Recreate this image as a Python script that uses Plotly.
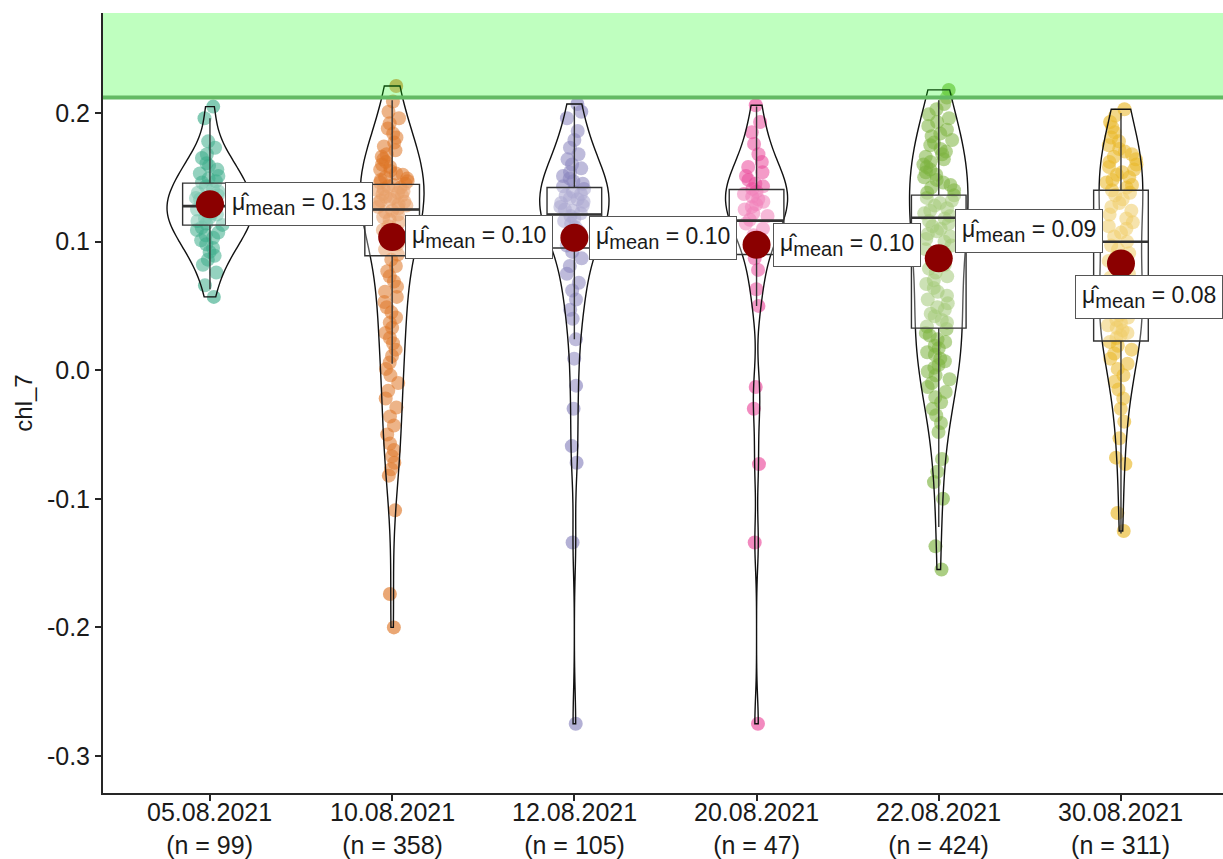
import plotly.graph_objects as go

# ---------------- data ----------------
categories = ["05.08.2021", "10.08.2021", "12.08.2021", "20.08.2021", "22.08.2021", "30.08.2021"]
counts = [99, 358, 105, 47, 424, 311]
colors = ["#1B9E77", "#D95F02", "#7570B3", "#E7298A", "#66A61E", "#E6AB02"]

g1 = [0.205, 0.196, 0.178, 0.173, 0.168, 0.165, 0.161, 0.159, 0.156, 0.153, 0.151, 0.149,
      0.147, 0.146, 0.143, 0.141, 0.139, 0.138, 0.136, 0.134, 0.133, 0.131, 0.129, 0.128,
      0.127, 0.125, 0.124, 0.122, 0.121, 0.119, 0.118, 0.116, 0.114, 0.113, 0.111, 0.109,
      0.107, 0.105, 0.103, 0.101, 0.098, 0.095, 0.092, 0.089, 0.086, 0.082, 0.076, 0.066, 0.057]
g2 = [0.221, 0.209, 0.201, 0.196, 0.192, 0.188, 0.184, 0.181, 0.177, 0.174, 0.171, 0.168,
      0.166, 0.164, 0.162, 0.160, 0.158, 0.156, 0.155, 0.153, 0.152, 0.150, 0.149, 0.148,
      0.147, 0.146, 0.145, 0.144, 0.143, 0.142, 0.141, 0.140, 0.139, 0.138, 0.137, 0.136,
      0.135, 0.134, 0.133, 0.132, 0.131, 0.130, 0.129, 0.128, 0.127, 0.126, 0.124, 0.123,
      0.121, 0.119, 0.117, 0.115, 0.112, 0.109, 0.106, 0.102, 0.098, 0.094, 0.090, 0.086,
      0.081, 0.077, 0.073, 0.069, 0.065, 0.061, 0.057, 0.053, 0.049, 0.045, 0.041, 0.037,
      0.033, 0.029, 0.025, 0.021, 0.016, 0.011, 0.006, 0.001, -0.004, -0.010, -0.016, -0.022,
      -0.029, -0.036, -0.043, -0.050, -0.057, -0.062, -0.067, -0.072, -0.077, -0.082,
      -0.109, -0.174, -0.200]
g3 = [0.207, 0.201, 0.196, 0.186, 0.179, 0.173, 0.168, 0.164, 0.160, 0.157, 0.154, 0.151,
      0.149, 0.147, 0.145, 0.143, 0.141, 0.139, 0.137, 0.136, 0.134, 0.133, 0.131, 0.130,
      0.128, 0.127, 0.125, 0.124, 0.122, 0.120, 0.118, 0.116, 0.114, 0.111, 0.108, 0.105,
      0.101, 0.097, 0.092, 0.087, 0.081, 0.075, 0.068, 0.062, 0.055, 0.047, 0.040, 0.024,
      0.009, -0.012, -0.030, -0.059, -0.072, -0.134, -0.275]
g4 = [0.206, 0.193, 0.185, 0.176, 0.168, 0.162, 0.158, 0.154, 0.151, 0.148, 0.145, 0.143,
      0.141, 0.139, 0.137, 0.135, 0.133, 0.131, 0.129, 0.127, 0.125, 0.122, 0.120, 0.117,
      0.114, 0.110, 0.105, 0.100, 0.094, 0.087, 0.078, 0.063, 0.050, -0.013, -0.030,
      -0.073, -0.134, -0.275]
g5 = [0.218, 0.212, 0.207, 0.203, 0.199, 0.196, 0.193, 0.190, 0.187, 0.184, 0.182, 0.179,
      0.177, 0.175, 0.172, 0.170, 0.168, 0.166, 0.164, 0.162, 0.160, 0.158, 0.156, 0.154,
      0.152, 0.150, 0.148, 0.146, 0.144, 0.142, 0.140, 0.138, 0.136, 0.134, 0.132, 0.130,
      0.128, 0.126, 0.124, 0.122, 0.120, 0.118, 0.116, 0.114, 0.112, 0.110, 0.108, 0.106,
      0.104, 0.102, 0.100, 0.097, 0.094, 0.091, 0.088, 0.085, 0.082, 0.079, 0.076, 0.073,
      0.070, 0.067, 0.064, 0.061, 0.058, 0.055, 0.052, 0.049, 0.047, 0.044, 0.042, 0.039,
      0.037, 0.034, 0.032, 0.029, 0.027, 0.024, 0.022, 0.019, 0.017, 0.014, 0.012, 0.009,
      0.007, 0.004, 0.002, -0.001, -0.004, -0.007, -0.010, -0.013, -0.017, -0.021, -0.025,
      -0.030, -0.035, -0.041, -0.048, -0.069, -0.079, -0.087, -0.100, -0.137, -0.155]
g6 = [0.203, 0.198, 0.193, 0.189, 0.185, 0.181, 0.178, 0.175, 0.172, 0.170, 0.168, 0.166,
      0.164, 0.162, 0.160, 0.158, 0.156, 0.154, 0.152, 0.150, 0.148, 0.146, 0.144, 0.142,
      0.140, 0.138, 0.136, 0.133, 0.130, 0.127, 0.124, 0.121, 0.118, 0.115, 0.112, 0.110,
      0.107, 0.104, 0.100, 0.097, 0.094, 0.091, 0.088, 0.085, 0.082, 0.078, 0.075, 0.072,
      0.069, 0.066, 0.063, 0.060, 0.058, 0.056, 0.053, 0.051, 0.049, 0.047, 0.045, 0.043,
      0.041, 0.039, 0.037, 0.035, 0.033, 0.031, 0.029, 0.027, 0.025, 0.022, 0.019, 0.016,
      0.013, 0.009, 0.005, 0.001, -0.004, -0.009, -0.015, -0.022, -0.030, -0.040,
      -0.053, -0.068, -0.073, -0.111, -0.125]
samples = [g1, g2, g3, g4, g5, g6]

means = [0.129, 0.1035, 0.103, 0.0975, 0.087, 0.083]
mean_labels = ["0.13", "0.10", "0.10", "0.10", "0.09", "0.08"]
q1 = [0.1128, 0.0890, 0.0950, 0.0900, 0.0327, 0.0227]
median = [0.1276, 0.1250, 0.1211, 0.1163, 0.1186, 0.0999]
q3 = [0.1455, 0.1445, 0.1421, 0.1405, 0.1362, 0.1400]
lowerfence = [0.063, 0.005, 0.024, 0.050, -0.122, -0.127]
upperfence = [0.196, 0.210, 0.205, 0.205, 0.210, 0.200]

threshold = 0.212
ytick_vals = [-0.3, -0.2, -0.1, 0.0, 0.1, 0.2]
ytick_text = ["-0.3", "-0.2", "-0.1", "0.0", "0.1", "0.2"]

# ---------------- styles ----------------
violin_widths = [0.47, 0.35, 0.38, 0.34, 0.32, 0.24]
label_xshift = [15, 13, 15, 16, 16, -46]
label_yshift = [0, 0, 0, 0, 27, -34]
FONT = "Liberation Sans, Arial, sans-serif"
TXT = "#1a1a1a"
YR = [-0.3288, 0.2778]
XR = [-0.587, 5.56]

fig = go.Figure()
pos = list(range(len(categories)))

# jittered points (drawn first, below outlines)
for i, vals in enumerate(samples):
    fig.add_trace(go.Violin(
        x=[pos[i]] * len(vals), y=vals, points="all", pointpos=0, jitter=0.85,
        width=0.2, spanmode="hard", fillcolor="rgba(0,0,0,0)",
        line=dict(color="rgba(0,0,0,0)", width=0),
        marker=dict(color=colors[i], opacity=0.55, size=14, line=dict(width=0)),
        box_visible=False, meanline_visible=False, showlegend=False, hoverinfo="skip"))

# violin outlines
for i, vals in enumerate(samples):
    fig.add_trace(go.Violin(
        x=[pos[i]] * len(vals), y=vals, points=False, width=violin_widths[i],
        scalemode="width", spanmode="hard", fillcolor="rgba(255,255,255,0.15)",
        line=dict(color="#111111", width=1.4),
        box_visible=False, meanline_visible=False, showlegend=False, hoverinfo="skip"))

# boxes from summary statistics
fig.add_trace(go.Box(
    x=pos, q1=q1, median=median, q3=q3, lowerfence=lowerfence, upperfence=upperfence,
    width=0.3, whiskerwidth=0, fillcolor="rgba(255,255,255,0.3)",
    line=dict(color="#333333", width=1.4), boxpoints=False, showlegend=False,
    hoverinfo="skip"))

# thicker median lines
mx, my = [], []
for i in pos:
    mx += [pos[i] - 0.15, pos[i] + 0.15, None]
    my += [median[i], median[i], None]
fig.add_trace(go.Scatter(x=mx, y=my, mode="lines", line=dict(color="#333333", width=2.6),
                         showlegend=False, hoverinfo="skip"))

# mean points
fig.add_trace(go.Scatter(x=pos, y=means, mode="markers",
                         marker=dict(color="#8B0000", size=28, line=dict(width=0)),
                         showlegend=False, hoverinfo="skip"))

# mean labels
for i in pos:
    fig.add_annotation(
        x=pos[i], y=means[i], xref="x", yref="y", showarrow=False,
        text=("\u03bc\u0302<sub><span style='font-size:20px'>mean</span></sub> = "
              + mean_labels[i]),
        xanchor="left", yanchor="middle", xshift=label_xshift[i], yshift=label_yshift[i],
        font=dict(family=FONT, size=23, color=TXT),
        bgcolor="white", bordercolor="#555555", borderwidth=1, borderpad=6)

# x tick labels (date and group size, two lines)
for i in pos:
    fig.add_annotation(
        x=pos[i], y=0, xref="x", yref="paper", showarrow=False,
        text=f"{categories[i]}<br>(n = {counts[i]})", xanchor="center", yanchor="top",
        yshift=-3, font=dict(family=FONT, size=25, color=TXT))

# threshold band and line
fig.add_shape(type="rect", xref="paper", yref="y", x0=0, x1=1, y0=threshold, y1=YR[1],
              fillcolor="rgba(0,255,0,0.25)", line=dict(width=0), layer="above")
fig.add_shape(type="line", xref="paper", yref="y", x0=0, x1=1, y0=threshold, y1=threshold,
              line=dict(color="rgb(100,186,100)", width=4), layer="above")

fig.update_layout(
    width=1223, height=859, autosize=False,
    margin=dict(l=103, r=0, t=13, b=66, autoexpand=False),
    paper_bgcolor="white", plot_bgcolor="white",
    font=dict(family=FONT, color=TXT),
    violinmode="overlay", boxmode="overlay",
    xaxis=dict(range=XR, tickvals=pos, showticklabels=False, showline=True,
               automargin=False,
               linecolor="#262626", linewidth=2, ticks="outside", ticklen=6,
               tickwidth=1.5, tickcolor="#262626", showgrid=False, zeroline=False),
    yaxis=dict(range=YR, tickvals=ytick_vals, ticktext=ytick_text, showline=True,
               automargin=False,
               linecolor="#262626", linewidth=2, ticks="outside", ticklen=6,
               tickwidth=1.5, tickcolor="#262626", showgrid=False, zeroline=False,
               tickfont=dict(size=25, family=FONT, color=TXT),
               title=dict(text="chl_7", font=dict(size=24, family=FONT, color=TXT),
                          standoff=8)),
)

fig.write_html("out.html")
